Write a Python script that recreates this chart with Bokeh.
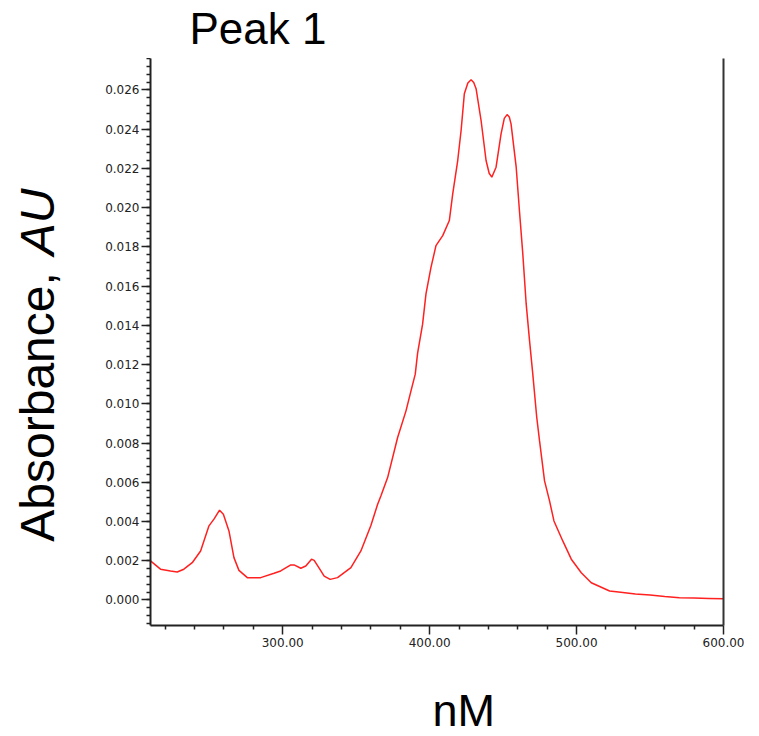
import math
from bokeh.plotting import figure
from bokeh.models import Range1d, FixedTicker, NumeralTickFormatter, LinearAxis
from bokeh.layouts import column, row
from bokeh.core.properties import value
from bokeh.embed import file_html
from bokeh.resources import INLINE

# ---- data ----
wavelength = [210, 216.8, 223.6, 228.2, 232.7, 238.4, 244.1, 249.8, 253.2, 257.0,
              259.6, 263.4, 266.8, 270.2, 275.9, 285, 294.1, 298.6, 305.5, 307.7,
              312.3, 315.7, 319.6, 321.4, 324.8, 328.2, 332.3, 337.3, 346.4, 353.2,
              360, 364.6, 366.8, 371.4, 378.2, 383.9, 387.3, 390.2, 391.8, 395.2,
              397.5, 400.9, 404.3, 408.9, 413.4, 415.7, 419.1, 421.4, 423.6, 426.0,
              428.2, 430.0, 431.6, 435, 438.4, 440.5, 442.3, 445.2, 448.6, 450.8,
              452.7, 454.2, 455.4, 458.9, 461.1, 463.4, 465.7, 468, 470.2, 472.9,
              474.8, 478.2, 481.6, 484.6, 490.6, 496.4, 503.2, 510, 522.5, 530,
              540, 550, 560, 570, 580, 590, 600]
absorbance = [0.00199, 0.00157, 0.00148, 0.00143, 0.00157, 0.0019, 0.0025, 0.00378, 0.00412, 0.00458,
              0.00437, 0.00352, 0.00216, 0.00151, 0.00114, 0.00114, 0.00136, 0.00148, 0.00179, 0.00179,
              0.00162, 0.00173, 0.00208, 0.00202, 0.00162, 0.00122, 0.00105, 0.00114, 0.00165, 0.0025,
              0.0038, 0.00488, 0.0053, 0.00624, 0.00828, 0.00964, 0.01066, 0.01151, 0.01258, 0.01406,
              0.0156, 0.01695, 0.01806, 0.01857, 0.01934, 0.0207, 0.0224, 0.02393, 0.0258, 0.02635,
              0.02652, 0.02638, 0.02606, 0.02444, 0.0224, 0.02175, 0.02155, 0.02206, 0.02376, 0.02455,
              0.02474, 0.02462, 0.02427, 0.02206, 0.01985, 0.01764, 0.01509, 0.01321, 0.01151, 0.0093,
              0.00811, 0.00607, 0.00505, 0.00403, 0.00301, 0.00208, 0.00139, 0.00088, 0.00046, 0.0004,
              0.0003, 0.00025, 0.00018, 0.00012, 0.0001, 0.00008, 0.00006]

x_major_ticks = [300, 400, 500, 600]
x_minor_ticks = [220, 240, 260, 280, 320, 340, 360, 380, 420, 440, 460, 480, 520, 540, 560, 580]
y_major_ticks = [0.000, 0.002, 0.004, 0.006, 0.008, 0.010, 0.012, 0.014, 0.016, 0.018,
                 0.020, 0.022, 0.024, 0.026]
y_minor_ticks = [round(-0.0012 + 0.0004 * i, 4) for i in range(73) if round(-0.0012 + 0.0004 * i, 4) <= 0.0276]

title_text = "Peak 1"
ylabel_main = "Absorbance, "
ylabel_unit = "AU"
xlabel_text = "nM"

X0, X1 = 210, 600
Y0, Y1 = -0.0013, 0.0276

W, H = 759, 736
TOP_H, BOT_H, LEFT_W = 58, 76, 80
MAIN_W, MAIN_H = W - LEFT_W, H - TOP_H - BOT_H

BIG = "Liberation Sans"
SHIFT = 15  # renderer places the alphabetic baseline this far below the anchor


def text_fig(w, h):
    f = figure(width=w, height=h, output_backend="svg", toolbar_location=None,
               x_range=Range1d(0, w), y_range=Range1d(0, h),
               x_axis_type=None, y_axis_type=None, min_border=0)
    f.outline_line_color = None
    f.background_fill_color = "white"
    f.border_fill_color = "white"
    return f


# ---- main chart ----
p = figure(width=MAIN_W, height=MAIN_H, output_backend="svg", toolbar_location=None,
           x_range=Range1d(X0, X1), y_range=Range1d(Y0, Y1),
           min_border_left=150 - LEFT_W, min_border_right=36, min_border_top=0,
           min_border_bottom=(TOP_H + MAIN_H) - 625)
p.outline_line_color = None
p.xgrid.grid_line_color = None
p.ygrid.grid_line_color = None
p.background_fill_color = "white"
p.border_fill_color = "white"

p.line(wavelength, absorbance, line_color="#ff2020", line_width=1.5)

AX_COL = "#222222"
TICK_FONT = "DejaVu Sans"

xa = p.xaxis[0]
xa.ticker = FixedTicker(ticks=x_major_ticks, minor_ticks=x_minor_ticks)
xa.formatter = NumeralTickFormatter(format="0.00")
ya = p.yaxis[0]
ya.ticker = FixedTicker(ticks=y_major_ticks, minor_ticks=y_minor_ticks)
ya.formatter = NumeralTickFormatter(format="0.000")
for ax in (xa, ya):
    ax.axis_line_color = AX_COL
    ax.axis_line_width = 2
    ax.major_tick_line_color = AX_COL
    ax.minor_tick_line_color = AX_COL
    ax.major_tick_line_width = 1.5
    ax.minor_tick_line_width = 1.5
    ax.major_tick_out = 9
    ax.major_tick_in = 0
    ax.minor_tick_out = 4
    ax.minor_tick_in = 0
    ax.major_label_text_font = TICK_FONT
    ax.major_label_text_font_size = "12px"
    ax.major_label_text_color = "#222222"
xa.major_label_standoff = 3
ya.major_label_standoff = 2

ra = LinearAxis(ticker=FixedTicker(ticks=[]), major_label_text_font_size="0px",
                axis_line_color="#333333", axis_line_width=2,
                major_tick_line_color=None, minor_tick_line_color=None)
p.add_layout(ra, "right")

# ---- title strip ----
top = text_fig(W, TOP_H)
top.text(x=[189], y=[TOP_H - 43 + SHIFT], text=[title_text], text_font=value(BIG),
         text_font_size="44px", text_align="left", text_baseline="alphabetic",
         text_color="black")

# ---- y label strip ----
left = text_fig(LEFT_W, MAIN_H)
left.text(x=[52 - SHIFT], y=[MAIN_H - (571 - TOP_H)], text=[ylabel_main], text_font=value(BIG),
          text_font_size="48px", angle=math.pi / 2, text_align="left",
          text_baseline="alphabetic", text_color="black")
left.text(x=[52 - SHIFT], y=[MAIN_H - (267 - TOP_H)], text=[ylabel_unit], text_font=value(BIG),
          text_font_size="48px", text_font_style="italic", angle=math.pi / 2,
          text_align="left", text_baseline="alphabetic", text_color="black")

# ---- x label strip ----
bottom = text_fig(W, BOT_H)
bottom.text(x=[432], y=[H - 725 + SHIFT], text=[xlabel_text], text_font=value(BIG),
            text_font_size="45px", text_align="left", text_baseline="alphabetic",
            text_color="black")

layout = column(top, row(left, p), bottom)
open("out.html", "w").write(file_html(layout, INLINE))
